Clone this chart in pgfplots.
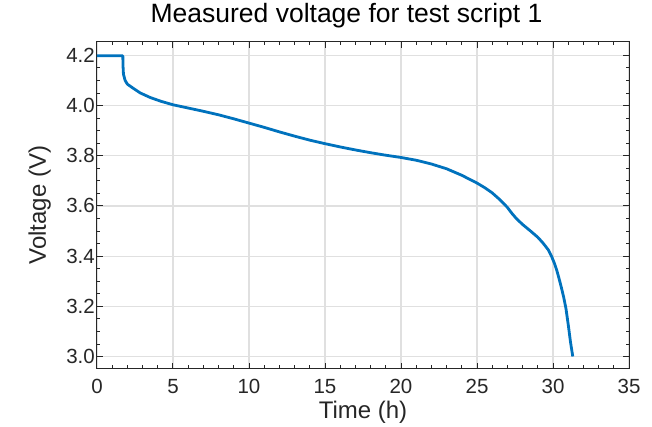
\documentclass[border=0pt]{standalone}
\usepackage{fontspec}
\setmainfont{Liberation Sans}
\usepackage{pgfplots}
\pgfplotsset{compat=1.18}
\definecolor{mblue}{RGB}{0,114,189}
\definecolor{axgray}{RGB}{38,38,38}
\definecolor{gridgray}{RGB}{224,224,224}
\begin{document}
\begin{tikzpicture}
\begin{axis}[
  scale only axis, width=532pt, height=327pt,
  xmin=0, xmax=35, ymin=2.952, ymax=4.255,
  xtick={0,5,10,15,20,25,30,35},
  ytick={3.0,3.2,3.4,3.6,3.8,4.0,4.2},
  yticklabel style={/pgf/number format/fixed, /pgf/number format/fixed zerofill, /pgf/number format/precision=1, inner sep=2pt},
  /pgf/number format/assume math mode=true,
  minor x tick num=4, minor y tick num=3,
  tick align=inside, xtick pos=both, ytick pos=both,
  major tick length=6pt, minor tick length=3.5pt,
  grid=major, major grid style={color=gridgray, line width=1.2pt},
  axis line style={axgray, line width=1pt},
  every tick/.style={axgray, line width=1pt},
  every minor tick/.style={axgray, line width=0.8pt},
  ticklabel style={font=\fontsize{20.5}{24}\selectfont, text=axgray},
  xticklabel style={anchor=base, yshift=-25pt},
  title={Measured voltage for test script 1},
  title style={font=\fontsize{26.5}{31}\selectfont, text=black, at={(axis description cs:0.469,1)}, anchor=base, yshift=13pt},
  xlabel={Time (h)}, ylabel={Voltage (V)},
  label style={font=\fontsize{24}{28}\selectfont, text=axgray},
  xlabel style={at={(axis description cs:0.5,0)}, anchor=base, yshift=-50pt},
  ylabel style={at={(axis description cs:-0.0959,0.5)}, anchor=base, rotate=0},
]
\addplot[mblue, line width=2.8pt, line join=round] coordinates {
(0,4.198) (1.70,4.198) (1.71,4.16) (1.74,4.125) (1.85,4.10) (2.0,4.085)
(2.4,4.068) (2.85,4.05) (3.5,4.032) (4.2,4.017) (5.0,4.003) (6.0,3.99)
(7.0,3.977) (8.0,3.963) (9.0,3.947) (10.0,3.930) (11.0,3.913) (12.0,3.895)
(13.0,3.878) (14.0,3.862) (15.0,3.848) (16.0,3.835) (17.0,3.823) (18.0,3.812)
(19.0,3.802) (20.0,3.793) (21.0,3.782) (22.0,3.767) (23.0,3.748) (24.0,3.722)
(25.0,3.691) (25.5,3.673) (26.0,3.652) (26.5,3.625) (27.0,3.594) (27.3,3.570)
(27.6,3.549) (28.0,3.526) (28.5,3.501) (29.0,3.475) (29.3,3.455) (29.5,3.44)
(29.7,3.424) (29.9,3.40) (30.1,3.37) (30.25,3.343) (30.4,3.31) (30.55,3.275)
(30.7,3.237) (30.85,3.192) (31.0,3.128) (31.15,3.058) (31.3,3.0)
};
\end{axis}
\path (current axis.south west) -- ++(-97pt,-56pt);
\path (current axis.north east) -- ++(23pt,40pt);
\end{tikzpicture}
\end{document}
